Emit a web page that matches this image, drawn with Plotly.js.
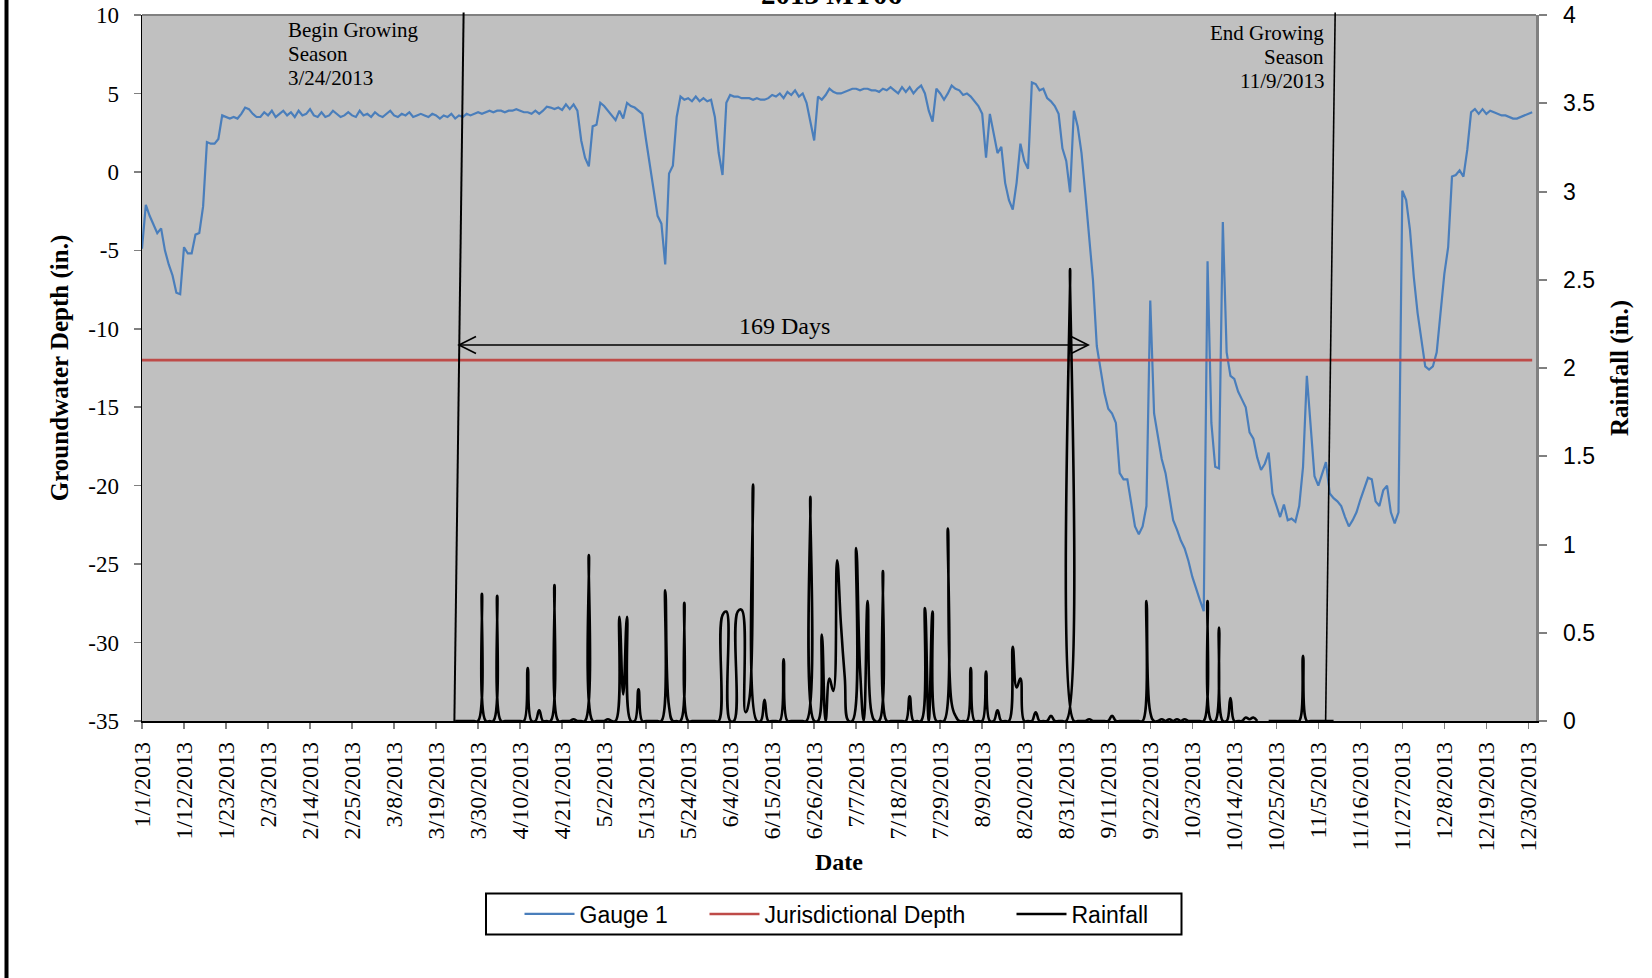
<!DOCTYPE html>
<html>
<head>
<meta charset="utf-8">
<script src="https://cdn.plot.ly/plotly-3.0.1.min.js"></script>
<style>
  html, body { margin: 0; padding: 0; background: #ffffff; }
  #chart { width: 1652px; height: 978px; }
</style>
</head>
<body>
<div id="chart"></div>
<script>
// ---- Data -----------------------------------------------------------------

// Gauge 1 groundwater depth (in.), one reading per day from 1 Jan 2013
const gaugeStart = '2013-01-01';
const gauge1 = [
  // Jan
  -4.9, -2.1, -2.8, -3.4, -3.9, -3.6, -5.0, -5.9, -6.6, -7.7, -7.8, -4.8, -5.2, -5.2, -4.0, -3.9,
  -2.2, 1.9, 1.8, 1.8, 2.1, 3.6, 3.5, 3.4, 3.5, 3.4, 3.7, 4.1, 4.0, 3.7, 3.5,
  // Feb
  3.5, 3.8, 3.6, 3.9, 3.5, 3.7, 3.9, 3.6, 3.8, 3.5, 3.9, 3.6, 3.7, 4.0, 3.6, 3.5,
  3.8, 3.5, 3.6, 3.9, 3.7, 3.5, 3.6, 3.8, 3.6, 3.5, 3.9, 3.6,
  // Mar
  3.7, 3.5, 3.8, 3.6, 3.5, 3.7, 3.9, 3.6, 3.5, 3.7, 3.6, 3.8, 3.5, 3.6, 3.7, 3.6,
  3.5, 3.7, 3.6, 3.4, 3.6, 3.5, 3.7, 3.4, 3.6, 3.5, 3.7, 3.6, 3.7, 3.8, 3.7,
  // Apr
  3.8, 3.9, 3.8, 3.9, 3.9, 3.8, 3.9, 3.9, 4.0, 3.9, 3.8, 3.8, 3.7, 3.9, 3.7,
  3.9, 4.15, 4.1, 4.0, 4.1, 3.95, 4.3, 4.0, 4.3, 3.9, 2.0, 0.9, 0.35, 2.9, 3.0,
  // May
  4.4, 4.2, 3.9, 3.6, 3.3, 3.9, 3.4, 4.4, 4.2, 4.1, 3.9, 3.7, 2.0, 0.4, -0.9, -2.8,
  -3.3, -5.9, -0.1, 0.4, 3.5, 4.8, 4.6, 4.7, 4.5, 4.8, 4.5, 4.7, 4.5, 4.6, 3.5,
  // Jun
  1.2, -0.2, 4.4, 4.9, 4.8, 4.8, 4.7, 4.7, 4.7, 4.6, 4.7, 4.6, 4.6, 4.7, 4.9,
  4.8, 5.0, 4.7, 5.1, 4.9, 5.2, 4.8, 5.0, 4.4, 3.3, 2.0, 4.8, 4.6, 4.9, 5.3,
  // Jul
  5.1, 5.0, 5.0, 5.1, 5.2, 5.3, 5.3, 5.2, 5.3, 5.3, 5.2, 5.2, 5.1, 5.3, 5.2, 5.4,
  5.2, 5.0, 5.4, 5.1, 5.4, 5.0, 5.3, 5.5, 5.0, 3.9, 3.2, 5.3, 5.0, 4.6, 5.0,
  // Aug
  5.5, 5.3, 5.2, 4.9, 5.0, 4.8, 4.5, 4.2, 3.7, 0.9, 3.7, 2.4, 1.2, 1.6, -0.7, -1.8,
  -2.4, -0.7, 1.8, 0.7, 0.2, 5.7, 5.6, 5.2, 5.3, 4.7, 4.5, 4.2, 3.7, 1.5, 0.7,
  // Sep
  -1.3, 3.9, 2.9, 1.2, -1.4, -4.3, -6.9, -11.1, -12.6, -14.1, -15.1, -15.4, -16.0, -19.2, -19.6,
  -19.6, -21.1, -22.6, -23.1, -22.6, -21.3, -8.2, -15.4, -17.0, -18.3, -19.2, -20.7, -22.2, -22.8, -23.5,
  // Oct
  -24.0, -24.8, -25.8, -26.6, -27.3, -28.0, -5.7, -16.0, -18.8, -18.9, -3.2, -11.5, -13.0, -13.2, -14.0, -14.5,
  -15.0, -16.6, -17.0, -18.2, -19.0, -18.6, -17.9, -20.5, -21.3, -22.0, -21.2, -22.2, -22.1, -22.3, -21.3,
  // Nov
  -18.8, -13.0, -16.5, -19.4, -20.0, -19.2, -18.5, -20.5, -20.8, -21.0, -21.3, -22.0, -22.6, -22.2, -21.7,
  -20.9, -20.2, -19.5, -19.6, -21.0, -21.3, -20.3, -20.0, -21.7, -22.4, -21.7, -1.2, -1.8, -3.7, -6.7,
  // Dec
  -9.0, -10.7, -12.4, -12.6, -12.4, -11.5, -9.2, -6.5, -4.8, -0.3, -0.2, 0.1, -0.3, 1.4, 3.8, 4.0,
  3.7, 4.0, 3.7, 3.9, 3.8, 3.7, 3.6, 3.6, 3.5, 3.4, 3.4, 3.5, 3.6, 3.7, 3.8
];

// Daily rainfall (in.), 24 Mar – 9 Nov 2013; null = no record
const rainStart = '2013-03-24';
const rainfall = [
  // Mar 24-31
  0, 0, 0, 0, 0, 0, 0, 0.72,
  // Apr
  0, 0, 0, 0.71, 0, 0, 0, 0, 0, 0,  0, 0.30, 0, 0, 0.06, 0, 0, 0, 0.77, 0,  0, 0, 0, 0.01, 0, 0, 0, 0.94, 0, 0,
  // May
  0, 0, 0.01, 0, 0, 0.59, 0.15, 0.59, 0, 0,  0.18, 0, 0, 0, 0, 0, 0, 0.74, 0.08, 0,  0, 0, 0.67, 0, 0, 0, 0, 0, 0, 0, 0,
  // Jun
  0, 0.60, 0.62, 0, 0, 0.62, 0.63, 0.05, 0.12, 1.34,  0, 0, 0.12, 0, 0, 0, 0, 0.35, 0, 0,  0, 0, 0, 0, 1.27, 0, 0, 0.49, 0, 0.24,
  // Jul
  0.17, 0.91, 0.55, 0.25, 0, 0, 0.98, 0.30, 0, 0.68,  0.05, 0, 0, 0.85, 0, 0, 0, 0, 0, 0,  0.14, 0, 0, 0, 0.64, 0, 0.62, 0, 0, 0, 1.09,
  // Aug
  0.10, 0.03, 0, 0, 0, 0.30, 0, 0, 0, 0.28,  0, 0, 0.06, 0, 0, 0, 0.42, 0.19, 0.24, 0,  0, 0, 0.05, 0, 0, 0, 0.03, 0, 0, 0, 0,
  // Sep
  2.56, 0, 0, 0, 0, 0.01, 0, 0, 0, 0,  0, 0.03, 0, 0, 0, 0, 0, 0, 0, 0,  0.68, 0.05, 0, 0, 0.01, 0, 0.01, 0, 0.01, 0,
  // Oct
  0.01, 0, 0, 0, 0, 0, 0.68, 0, 0, 0.53,  0, 0, 0.13, 0, 0, 0, 0.02, 0.01, 0.02, 0,  null, null, 0, 0, 0, 0, 0, 0, 0, 0, 0,
  // Nov 1-9
  0.37, 0, 0, 0, 0, 0, 0, 0, 0
];

// Jurisdictional depth threshold (in.)
const jurisdictionalDates = ['2013-01-01', '2013-12-31'];
const jurisdictionalDepth = [-12, -12];

// Axis ticks
const xTickDates = [
  '2013-01-01', '2013-01-12', '2013-01-23', '2013-02-03', '2013-02-14', '2013-02-25',
  '2013-03-08', '2013-03-19', '2013-03-30', '2013-04-10', '2013-04-21', '2013-05-02',
  '2013-05-13', '2013-05-24', '2013-06-04', '2013-06-15', '2013-06-26', '2013-07-07',
  '2013-07-18', '2013-07-29', '2013-08-09', '2013-08-20', '2013-08-31', '2013-09-11',
  '2013-09-22', '2013-10-03', '2013-10-14', '2013-10-25', '2013-11-05', '2013-11-16',
  '2013-11-27', '2013-12-08', '2013-12-19', '2013-12-30'
];
const depthTicks = [-35, -30, -25, -20, -15, -10, -5, 0, 5, 10];
const depthTickText = ['-35', '-30', '-25', '-20', '-15', '-10', '-5', '0', '5', '10'];

// Growing season markers (hand-drawn guide lines) and the span arrow
const seasonLineBase = ['2013-03-23 19:00', '2013-11-06 22:00'];
const seasonLineTop = ['2013-03-26 05:00', '2013-11-09 10:00'];
const spanArrow = ['2013-03-25 00:00', '2013-09-05 18:00'];

// ---- Helpers --------------------------------------------------------------

function dailyDates(start, n) {
  const t0 = Date.parse(start + 'T00:00:00Z');
  const out = [];
  for (let i = 0; i < n; i++) {
    out.push(new Date(t0 + i * 86400000).toISOString().slice(0, 10));
  }
  return out;
}

const W = 1652, H = 978;
const M = { l: 142, r: 116, t: 15, b: 257, autoexpand: false };
const PW = W - M.l - M.r;
const PH = H - M.t - M.b;
// pixel position on the page -> paper fraction
const fx = v => (v - M.l) / PW;
const fy = v => (M.t + PH - v) / PH;

const SERIF = 'Liberation Serif, Times New Roman, serif';
const SANS = 'Liberation Sans, Arial, sans-serif';
const GREY = '#808080';

// single text line placed by its baseline
function textLine(text, x, baseline, xanchor, size, weight) {
  return {
    text: text, xref: 'paper', yref: 'paper',
    x: fx(x), y: fy(baseline - 0.34 * size),
    xanchor: xanchor, yanchor: 'middle', showarrow: false,
    font: { family: SERIF, size: size, color: '#000', weight: weight || 400 }
  };
}

// ---- Traces ---------------------------------------------------------------

const traces = [
  {
    type: 'scatter', mode: 'lines', name: 'Gauge 1',
    x: dailyDates(gaugeStart, gauge1.length), y: gauge1,
    line: { color: '#4A7EBB', width: 2.2 },
    legendwidth: 120
  },
  {
    type: 'scatter', mode: 'lines', name: 'Jurisdictional Depth',
    x: jurisdictionalDates, y: jurisdictionalDepth,
    line: { color: '#BE4B48', width: 2.6 },
    legendwidth: 242
  },
  {
    type: 'scatter', mode: 'lines', name: 'Rainfall', yaxis: 'y2',
    x: dailyDates(rainStart, rainfall.length), y: rainfall,
    line: { color: '#000000', width: 2.6, shape: 'spline', smoothing: 1.3 },
    connectgaps: false,
    legendwidth: 90
  }
];

// ---- Layout ---------------------------------------------------------------

const arrowY = fy(345);
const shapes = [
  // grey frame along the top of the plot area
  { type: 'line', xref: 'paper', yref: 'paper', x0: 0, x1: 1, y0: 1, y1: 1,
    line: { color: GREY, width: 2 } },
  // begin / end of growing season guide lines
  { type: 'line', xref: 'x', yref: 'paper', x0: seasonLineBase[0], y0: 0, x1: seasonLineTop[0], y1: fy(12.5),
    line: { color: '#000', width: 2 } },
  { type: 'line', xref: 'x', yref: 'paper', x0: seasonLineBase[1], y0: 0, x1: seasonLineTop[1], y1: fy(12.5),
    line: { color: '#000', width: 1.6 } },
  // span arrow with open heads
  { type: 'line', xref: 'x', yref: 'paper', x0: spanArrow[0], x1: spanArrow[1], y0: arrowY, y1: arrowY,
    line: { color: '#000', width: 1.6 } },
  { type: 'path', xref: 'x', yref: 'paper', xsizemode: 'pixel', ysizemode: 'pixel',
    xanchor: spanArrow[0], yanchor: arrowY, path: 'M17,8.5L0,0L17,-8.5',
    line: { color: '#000', width: 1.6 } },
  { type: 'path', xref: 'x', yref: 'paper', xsizemode: 'pixel', ysizemode: 'pixel',
    xanchor: spanArrow[1], yanchor: arrowY, path: 'M-17,8.5L0,0L-17,-8.5',
    line: { color: '#000', width: 1.6 } },
  // legend frame
  { type: 'rect', xref: 'paper', yref: 'paper',
    x0: fx(486), x1: fx(1181.5), y0: fy(934.5), y1: fy(893.5),
    line: { color: '#000', width: 2 }, fillcolor: 'rgba(0,0,0,0)' },
  // page frame on the left
  { type: 'line', xref: 'paper', yref: 'paper', x0: fx(6.5), x1: fx(6.5), y0: fy(H + 2), y1: fy(-2),
    line: { color: '#000', width: 4 } }
];

const annotations = [
  // chart title (sits at the very top edge of the page)
  textLine('2013 MT06', 831.5, 4, 'center', 29, 700),
  textLine('Begin Growing', 285.7, 37, 'left', 21),
  textLine('Season', 285.7, 61, 'left', 21),
  textLine('3/24/2013', 285.7, 85, 'left', 21),
  textLine('End Growing', 1325.5, 40, 'right', 21),
  textLine('Season', 1325.5, 64, 'right', 21),
  textLine('11/9/2013', 1325.5, 88, 'right', 21),
  textLine('169 Days', 784.6, 334, 'center', 24)
];

const layout = {
  width: W, height: H, margin: M,
  paper_bgcolor: '#ffffff', plot_bgcolor: '#C0C0C0',
  showlegend: true,
  legend: {
    orientation: 'h', x: fx(519.5), xanchor: 'left', y: fy(914), yanchor: 'middle',
    bgcolor: 'rgba(0,0,0,0)', borderwidth: 0, itemwidth: 50, traceorder: 'normal',
    font: { family: SANS, size: 23, color: '#000' }
  },
  xaxis: {
    type: 'date', range: ['2013-01-01', '2014-01-01'],
    tickmode: 'array', tickvals: xTickDates, tickformat: '%-m/%-d/%Y', tickangle: -90,
    tickfont: { family: SERIF, size: 24, color: '#000' },
    ticks: 'outside', ticklen: 6, tickwidth: 1.5, tickcolor: GREY, ticklabelstandoff: 4,
    showline: true, linecolor: '#000', linewidth: 1.5,
    showgrid: false, zeroline: false,
    title: { text: 'Date', standoff: 3, font: { family: SERIF, size: 24, color: '#000', weight: 700 } }
  },
  yaxis: {
    range: [-35, 10], tickmode: 'array', tickvals: depthTicks, ticktext: depthTickText,
    tickfont: { family: SERIF, size: 23, color: '#000' },
    ticks: 'outside', ticklen: 7, tickwidth: 1.5, tickcolor: GREY, ticklabelstandoff: 10,
    showline: true, linecolor: '#000', linewidth: 1.5,
    showgrid: false, zeroline: false,
    title: { text: 'Groundwater Depth (in.)', standoff: 12, font: { family: SERIF, size: 25, color: '#000', weight: 700 } }
  },
  yaxis2: {
    overlaying: 'y', side: 'right', range: [0, 4], tickmode: 'linear', tick0: 0, dtick: 0.5,
    tickfont: { family: SANS, size: 23, color: '#000' },
    ticks: 'outside', ticklen: 8, tickwidth: 2, tickcolor: GREY, ticklabelstandoff: 12,
    showline: true, linecolor: GREY, linewidth: 2.5,
    showgrid: false, zeroline: false,
    title: { text: 'Rainfall (in.)', standoff: 17, font: { family: SERIF, size: 25, color: '#000', weight: 700 } }
  },
  shapes: shapes,
  annotations: annotations
};

Plotly.newPlot('chart', traces, layout, { displayModeBar: false, staticPlot: true });
</script>
</body>
</html>
